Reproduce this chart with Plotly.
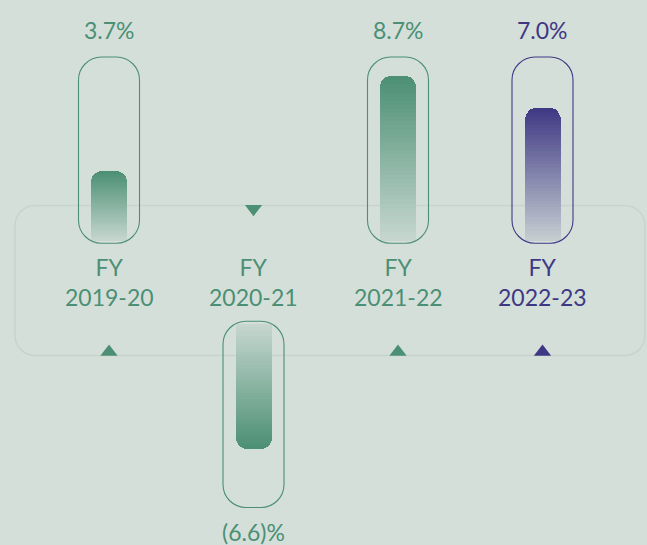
import plotly.graph_objects as go

# ---------------- data ----------------
fy_labels = ["FY<br>2019-20", "FY<br>2020-21", "FY<br>2021-22", "FY<br>2022-23"]
growth = [3.7, -6.6, 8.7, 7.0]
highlight = [False, False, False, True]

# ---------------- style ----------------
W, H = 647, 545
BG_RGB = (213, 223, 218)
GREEN = (75, 143, 116)
PURPLE = (62, 56, 132)
PANEL_LINE = "#C9D3CE"
FONT = "Lato, 'Open Sans', sans-serif"
FS = 23

X0_PX, DX_PX = 109.0, 144.5      # first column centre, column spacing (px)
KY = 18.9                        # px per percentage point
BASE_POS_PX = 240.5              # baseline of positive bars (px from top)
BASE_NEG_PX = 324.0              # baseline of negative bars (px from top)
BAR_W_PX = 36
CAP_W_PX, CAP_LEN_PX, CAP_PAD_PX, CAP_R_PX = 61, 183.5, 2.75, 23
N_SLICES = 40
A_FAR, A_NEAR = 1.0, 0.10

def rgb(c):
    return "rgb(%d,%d,%d)" % tuple(int(round(v)) for v in c)

def blend(c, a):
    return rgb(tuple(b * (1 - a) + v * a for v, b in zip(c, BG_RGB)))

def col(i):
    return PURPLE if highlight[i] else GREEN

x_range = [(0 - X0_PX) / DX_PX, (W - X0_PX) / DX_PX]
y_range = [(BASE_POS_PX - H) / KY, BASE_POS_PX / KY]
y2_range = [(BASE_NEG_PX - H) / KY, BASE_NEG_PX / KY]

xs = list(range(len(growth)))
pos_idx = [i for i in xs if growth[i] >= 0]
neg_idx = [i for i in xs if growth[i] < 0]

fig = go.Figure()

# gradient bars: each bar is a stack of thin slices
for k in range(N_SLICES):
    a = A_NEAR + (A_FAR - A_NEAR) * (k + 0.5) / N_SLICES
    fig.add_trace(go.Bar(
        x=pos_idx, y=[growth[i] / N_SLICES for i in pos_idx],
        width=BAR_W_PX / DX_PX,
        marker=dict(color=[blend(col(i), a) for i in pos_idx], line=dict(width=0)),
        yaxis="y", hoverinfo="skip", showlegend=False))
    fig.add_trace(go.Bar(
        x=neg_idx, y=[growth[i] / N_SLICES for i in neg_idx],
        width=BAR_W_PX / DX_PX,
        marker=dict(color=[blend(col(i), a) for i in neg_idx], line=dict(width=0)),
        yaxis="y2", hoverinfo="skip", showlegend=False))

# direction triangles
TRI_UP_PX, TRI_DOWN_PX = 351.9, 208.75
fig.add_trace(go.Scatter(
    x=pos_idx, y=[(BASE_POS_PX - TRI_UP_PX) / KY] * len(pos_idx),
    mode="markers", yaxis="y",
    marker=dict(symbol="triangle-up", size=15, color=[rgb(col(i)) for i in pos_idx]),
    hoverinfo="skip", showlegend=False))
fig.add_trace(go.Scatter(
    x=neg_idx, y=[(BASE_NEG_PX - TRI_DOWN_PX) / KY] * len(neg_idx),
    mode="markers", yaxis="y2",
    marker=dict(symbol="triangle-down", size=15, color=[rgb(col(i)) for i in neg_idx]),
    hoverinfo="skip", showlegend=False))

KAP = 0.5523

def rrect(xl, xr, ylo, yhi, rx, ry):
    f = lambda v: "%.6f" % v
    p = []
    p.append("M%s,%s" % (f(xl), f(ylo + ry)))
    p.append("L%s,%s" % (f(xl), f(yhi - ry)))
    p.append("C%s,%s %s,%s %s,%s" % (f(xl), f(yhi - ry + KAP * ry), f(xl + rx - KAP * rx), f(yhi), f(xl + rx), f(yhi)))
    p.append("L%s,%s" % (f(xr - rx), f(yhi)))
    p.append("C%s,%s %s,%s %s,%s" % (f(xr - rx + KAP * rx), f(yhi), f(xr), f(yhi - ry + KAP * ry), f(xr), f(yhi - ry)))
    p.append("L%s,%s" % (f(xr), f(ylo + ry)))
    p.append("C%s,%s %s,%s %s,%s" % (f(xr), f(ylo + ry - KAP * ry), f(xr - rx + KAP * rx), f(ylo), f(xr - rx), f(ylo)))
    p.append("L%s,%s" % (f(xl + rx), f(ylo)))
    p.append("C%s,%s %s,%s %s,%s" % (f(xl + rx - KAP * rx), f(ylo), f(xl), f(ylo + ry - KAP * ry), f(xl), f(ylo + ry)))
    p.append("Z")
    return " ".join(p)

shapes = []
# background panel (paper coords)
PX0, PX1, PY0, PY1, PR = 15, 645, 205.5, 355.5, 20
shapes.append(dict(type="path", xref="paper", yref="paper", layer="below",
                   path=rrect(PX0 / W, PX1 / W, 1 - PY1 / H, 1 - PY0 / H, PR / W, PR / H),
                   line=dict(color=PANEL_LINE, width=1.5), fillcolor="rgba(0,0,0,0)"))

# capsule outlines
hw = CAP_W_PX / 2 / DX_PX
rx = CAP_R_PX / DX_PX
ry = CAP_R_PX / KY
for i in xs:
    if growth[i] >= 0:
        ylo, yhi, yref = -CAP_PAD_PX / KY, CAP_LEN_PX / KY, "y"
    else:
        ylo, yhi, yref = -CAP_LEN_PX / KY, CAP_PAD_PX / KY, "y2"
    shapes.append(dict(type="path", xref="x", yref=yref, layer="above",
                       path=rrect(i - hw, i + hw, ylo, yhi, rx, ry),
                       line=dict(color=rgb(col(i)), width=1.1), fillcolor="rgba(0,0,0,0)"))

annotations = []
VAL_TOP_PX, VAL_BOT_PX, FY_PX = 29.5, 531.5, 282
for i in xs:
    v = growth[i]
    txt = ("%.1f%%" % v) if v >= 0 else ("(%.1f)%%" % abs(v))
    ypx = VAL_TOP_PX if v >= 0 else VAL_BOT_PX
    annotations.append(dict(x=i, xref="x", y=1 - ypx / H, yref="paper", text=txt,
                            showarrow=False, xanchor="center", yanchor="middle",
                            font=dict(family=FONT, size=FS, color=rgb(col(i)))))
    annotations.append(dict(x=i, xref="x", y=1 - FY_PX / H, yref="paper", text=fy_labels[i],
                            showarrow=False, xanchor="center", yanchor="middle", align="center",
                            font=dict(family=FONT, size=FS, color=rgb(col(i)))))

axis_off = dict(showgrid=False, zeroline=False, showticklabels=False, showline=False, ticks="")
fig.update_layout(
    width=W, height=H,
    margin=dict(l=0, r=0, t=0, b=0),
    paper_bgcolor=rgb(BG_RGB), plot_bgcolor=rgb(BG_RGB),
    barmode="relative", bargap=0, barcornerradius=11,
    xaxis=dict(range=x_range, fixedrange=True, **axis_off),
    yaxis=dict(range=y_range, fixedrange=True, **axis_off),
    yaxis2=dict(range=y2_range, overlaying="y", fixedrange=True, **axis_off),
    shapes=shapes, annotations=annotations,
    showlegend=False, hovermode=False,
)

fig.write_html(
    "out.html",
    config={"displayModeBar": False},
    post_script="document.body.style.margin='0';document.body.style.overflow='hidden';"
                "document.body.style.background='%s';" % rgb(BG_RGB),
)
